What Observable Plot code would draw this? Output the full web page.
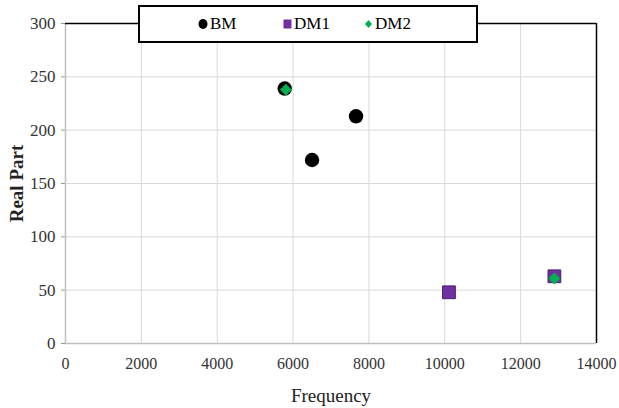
<!DOCTYPE html>
<html><head><meta charset="utf-8">
<script src="https://cdn.jsdelivr.net/npm/d3@7"></script>
<script src="https://cdn.jsdelivr.net/npm/@observablehq/plot@0.6"></script>
<style>
body{margin:0;background:#fff;}
#wrap{position:relative;width:619px;height:408px;font-family:"Liberation Serif","Times New Roman",serif;}
#legend{position:absolute;left:138px;top:5px;width:336px;height:34px;border:2px solid #000;background:#fff;box-sizing:content-box;font-size:17px;color:#000;}
#legend .item{position:absolute;top:7px;display:flex;align-items:center;gap:2px;}
</style>
</head><body>
<div id="wrap"><div id="chart"></div><div id="legend"></div></div>
<script>
const seriesNames = ["BM", "DM1", "DM2"];
const seriesColors = ["#000000", "#7030A0", "#00B050"];
const bmFreq = [5780, 6500, 7660];
const bmReal = [239, 172, 213];
const dm1Freq = [10110, 12890];
const dm1Real = [48, 63];
const dm2Freq = [5810, 12890];
const dm2Real = [238, 61];
const xTicks = [0, 2000, 4000, 6000, 8000, 10000, 12000, 14000];
const yTicks = [0, 50, 100, 150, 200, 250, 300];

const bm = bmFreq.map((f, i) => ({f, v: bmReal[i]}));
const dm1 = dm1Freq.map((f, i) => ({f, v: dm1Real[i]}));
const dm2 = dm2Freq.map((f, i) => ({f, v: dm2Real[i]}));
const serif = '"Liberation Serif","Times New Roman",serif';

const chart = Plot.plot({
  width: 619, height: 408,
  marginLeft: 65, marginRight: 23, marginTop: 23, marginBottom: 65,
  style: {fontFamily: serif, fontSize: "16px", color: "#333", background: "#fff"},
  x: {domain: [0, 14000], label: null},
  y: {domain: [0, 300], label: null},
  marks: [
    Plot.gridX({ticks: xTicks, stroke: "#d9d9d9", strokeOpacity: 1}),
    Plot.gridY({ticks: yTicks, stroke: "#d9d9d9", strokeOpacity: 1}),
    Plot.axisX({ticks: xTicks, tickSize: 0, tickPadding: 14, fontSize: 16, fontFamily: serif, tickFormat: d => String(d), label: "Frequency", labelArrow: "none", labelAnchor: "center", labelOffset: 58}),
    Plot.axisY({ticks: yTicks, tickSize: 4, tickPadding: 6, fontSize: 17, fontFamily: serif, stroke: "#999", label: "Real Part", labelArrow: "none", labelAnchor: "center", labelOffset: 56}),
    Plot.ruleX([0], {stroke: "#bfbfbf", strokeWidth: 1.5}),
    Plot.ruleY([0], {stroke: "#bfbfbf", strokeWidth: 1.5}),
    Plot.ruleY([300], {stroke: "#000", strokeWidth: 1.5}),
    Plot.ruleX([14000], {stroke: "#000", strokeWidth: 1.5}),
    Plot.dot(bm, {x: "f", y: "v", r: 7.2, symbol: "circle", fill: seriesColors[0], stroke: "none"}),
    Plot.dot(dm1, {x: "f", y: "v", r: 7.2, symbol: "square", fill: seriesColors[1], stroke: "#4a1f6e", strokeWidth: 1}),
    Plot.dot(dm2, {x: "f", y: "v", r: 5.4, symbol: "diamond2", fill: seriesColors[2], stroke: "none"})
  ]
});
document.getElementById("chart").appendChild(chart);
// force serif fonts and sizes on all svg text (inline styles)
chart.querySelectorAll("text").forEach(t => {
  t.style.fontFamily = serif;
  const g = t.closest("g[aria-label]");
  const lab = g ? g.getAttribute("aria-label") : "";
  if (lab.includes("label") && !lab.includes("tick")) {
    t.style.fontSize = "19px";
    t.style.fill = "#222";
    if (lab.startsWith("y")) t.style.fontWeight = "bold";
  } else if (lab.startsWith("y")) {
    t.style.fontSize = "17px";
  } else {
    t.style.fontSize = "16px";
  }
});

// legend
const legend = document.getElementById("legend");
const lx = [58, 143, 224];
const shapes = [
  '<svg width="10" height="12"><ellipse cx="5" cy="6" rx="4.5" ry="5" fill="' + seriesColors[0] + '"/></svg>',
  '<svg width="9" height="10"><rect x="0.5" y="0.5" width="8" height="9" fill="' + seriesColors[1] + '"/></svg>',
  '<svg width="9" height="10"><path d="M4.5 1 L8 5 L4.5 9 L1 5 Z" fill="' + seriesColors[2] + '"/></svg>'
];
seriesNames.forEach((n, i) => {
  const d = document.createElement("div");
  d.className = "item";
  d.style.left = lx[i] + "px";
  d.innerHTML = shapes[i] + "<span>" + n + "</span>";
  legend.appendChild(d);
});
</script>
</body></html>
